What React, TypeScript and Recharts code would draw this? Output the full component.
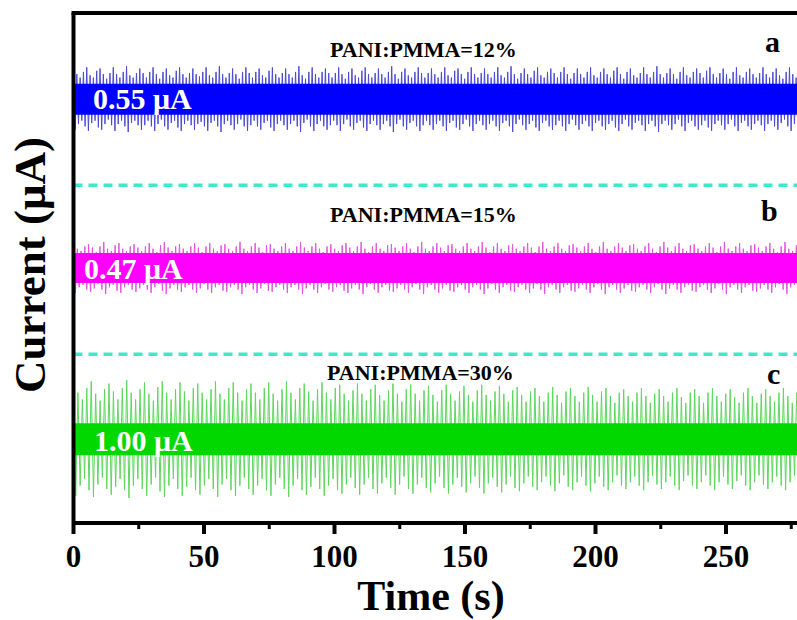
import { ComposedChart, Line, XAxis, YAxis, ReferenceLine } from 'recharts';

// axis ranges (time in s, stacked current in uA)
const xMax = 280;
const yMax = 4.5;
const timeTicks = [0, 25, 50, 75, 100, 125, 150, 175, 200, 225, 250, 275];

// offsets of the three stacked traces and the dashed separators
const centers = { a: 3.74, b: 2.25, c: 0.74 };
const separators = [2.98, 1.49];

// spike half-amplitudes, in 0.01 uA, one per cycle
const blueAmp = [
  27, 22, 19, 24, 28, 21, 19, 25, 27, 22, 18, 23, 28, 22, 19, 24, 29, 21, 19, 23,
  27, 23, 19, 24, 28, 22, 18, 24, 27, 21, 19, 25, 28, 22, 19, 23, 27, 22, 20, 24,
  28, 21, 19, 24, 29, 22, 19, 23, 27, 22, 18, 24, 28, 23, 19, 24, 27, 21, 19, 25,
  28, 22, 19, 23, 27, 22, 19, 24, 29, 21, 18, 24, 28, 22, 19, 24, 27, 23, 19, 23,
  28, 22, 18, 24, 27, 21, 19, 25, 28, 22, 19, 23, 27, 22, 19, 24, 29, 22, 18, 24,
  27, 21, 19, 24, 28, 23, 19, 23, 27, 22, 19, 24, 28, 21, 19, 25, 27, 22, 18, 24,
  28, 22, 19, 23, 27, 22, 19, 24, 28, 21, 19, 24, 29, 22, 18, 23, 27, 22, 19, 25,
  28, 21, 19, 24, 27, 23, 19, 24, 28, 22, 18, 23, 27, 22, 19, 24, 28, 21, 19, 24,
  27, 22, 19, 25, 28, 22, 18, 24, 27, 21, 19, 23, 28, 22, 19, 24, 29, 22, 19, 23,
  27, 22, 18, 24, 28, 21, 19, 24, 27, 23, 19, 25, 28, 22, 19, 23, 27, 22, 18, 24,
  28, 21, 19, 24, 27, 22, 19, 23, 28, 22, 19, 24, 27, 21, 18, 24, 28, 22, 19, 25, 27,
];
const magentaAmp = [
  22, 17, 15, 19, 21, 18, 14, 19, 23, 17, 15, 20, 22, 17, 15, 19, 21, 18, 15, 19,
  22, 17, 14, 20, 23, 18, 15, 19, 21, 17, 15, 19, 22, 18, 14, 19, 22, 17, 15, 20,
  21, 17, 15, 19, 23, 17, 15, 19, 22, 18, 14, 20, 21, 17, 15, 19, 22, 17, 15, 19,
  23, 18, 15, 19, 22, 17, 14, 19, 21, 17, 15, 20, 22, 18, 15, 19, 23, 17, 14, 19,
  22, 17, 15, 20, 21, 18, 15, 19, 22, 17, 14, 19, 23, 17, 15, 19, 22, 18, 15, 20,
  21, 17, 15, 19, 22, 17, 15, 19, 23, 18, 14, 19, 22, 17, 15, 20, 21, 17, 15, 19,
  22, 18, 14, 19, 23, 17, 15, 19, 22, 17, 15, 20, 21, 18, 15, 19, 22, 17, 14, 19,
  23, 17, 15, 19, 22, 18, 15, 20, 21, 17, 15, 19, 22, 17, 14, 19, 23, 18, 15, 19,
  22, 17, 15, 20, 21, 17, 15, 19, 22, 18, 14, 19, 23, 17, 15, 19, 22, 17, 15, 20,
  21, 18, 15, 19, 22, 17, 14, 19, 23, 17, 15, 20, 22, 18,
];
const greenAmp = [
  50, 41, 35, 45, 51, 40, 34, 44, 49, 42, 35, 45, 52, 41, 35, 44, 50, 40, 34, 46,
  51, 41, 35, 44, 50, 42, 34, 45, 49, 41, 35, 44, 51, 40, 35, 45, 50, 41, 34, 44,
  49, 41, 35, 45, 50, 40, 34, 44, 51, 41, 35, 45, 49, 42, 34, 44, 50, 41, 35, 45,
  48, 40, 34, 43, 49, 40, 34, 44, 48, 39, 34, 43, 49, 40, 33, 44, 48, 40, 34, 43,
  47, 39, 33, 43, 48, 40, 34, 42, 47, 39, 33, 43, 48, 39, 34, 42, 47, 40, 33, 43,
  46, 39, 33, 42, 45, 38, 33, 41, 46, 39, 32, 42, 45, 38, 33, 41, 46, 39, 33, 42,
  45, 38, 32, 41, 44, 38, 33, 41, 45, 38, 32, 40, 44, 38, 33, 41, 45, 37, 32, 41,
  44, 38, 32, 41, 45, 38, 33, 40, 44, 37, 32, 41, 45, 38, 32, 40, 44, 38, 33, 41,
  45, 38, 32, 41, 44,
];

// cycle length of each trace (s)
const blueDt = 1.27;
const magentaDt = 1.45;
const greenDt = 1.7;

const FONT = "'Liberation Serif', 'Times New Roman', serif";

const buildTrace = (amps: number[], dt: number, center: number) =>
  amps.flatMap((a, i) => [
    { t: i * dt, v: center + a / 100 },
    { t: i * dt + dt / 2, v: center - a / 100 },
  ]);

const buildBand = (center: number) => [
  { t: 0, v: center },
  { t: xMax, v: center },
];

const traceA = buildTrace(blueAmp, blueDt, centers.a);
const traceB = buildTrace(magentaAmp, magentaDt, centers.b);
const traceC = buildTrace(greenAmp, greenDt, centers.c);

const TimeTick = ({ x, y, payload }: any) => {
  const major = payload.value % 50 === 0;
  return (
    <g transform={`translate(${x},${y})`}>
      <line x1={0} x2={0} y1={0} y2={major ? 11 : 6} stroke="#000" strokeWidth={major ? 4 : 3} />
      {major && (
        <text y={44} textAnchor="middle" fontSize={31} fontWeight="bold" fontFamily={FONT} fill="#000">
          {payload.value}
        </text>
      )}
    </g>
  );
};

// text layer drawn above the plotted bands
const Annotations = () => (
  <svg
    width={797}
    height={620}
    style={{ position: 'absolute', left: 0, top: 0, zIndex: 5, pointerEvents: 'none' }}
  >
    <rect x={71.5} y={11} width={726} height={4} fill="#000" />
    <g fontFamily={FONT} fontWeight="bold">
      <text x={330} y={57} fontSize={22} fill="#000">PANI:PMMA=12%</text>
      <text x={330} y={222} fontSize={22} fill="#000">PANI:PMMA=15%</text>
      <text x={327} y={380} fontSize={22} fill="#000">PANI:PMMA=30%</text>
      <text x={765} y={52} fontSize={30} fill="#000">a</text>
      <text x={761} y={221} fontSize={30} fill="#000">b</text>
      <text x={767} y={384} fontSize={30} fill="#000">c</text>
      <text x={93} y={109} fontSize={30} fill="#fff">0.55 μA</text>
      <text x={84} y={279} fontSize={30} fill="#fff">0.47 μA</text>
      <text x={94} y={451} fontSize={30} fill="#fff">1.00 μA</text>
      <text x={431} y={610} fontSize={42} fill="#000" textAnchor="middle">Time (s)</text>
      <text transform="translate(45,265) rotate(-90)" fontSize={45} fill="#000" textAnchor="middle">
        Current (μA)
      </text>
    </g>
  </svg>
);

const App = () => {
  return (
    <div style={{ position: 'absolute', left: 0, top: 0, width: 797, height: 620, overflow: 'hidden', background: '#fff' }}>
      <ComposedChart width={815} height={620} margin={{ top: 13, right: 10.7, bottom: 0, left: 0 }}>
        <XAxis
          type="number"
          dataKey="t"
          domain={[0, xMax]}
          ticks={timeTicks}
          allowDataOverflow
          height={97}
          tickSize={0}
          tickMargin={0}
          tick={<TimeTick />}
          axisLine={{ stroke: '#000', strokeWidth: 4 }}
          interval={0}
        />
        <YAxis
          type="number"
          domain={[0, yMax]}
          allowDataOverflow
          width={73.5}
          tick={false}
          tickLine={false}
          axisLine={{ stroke: '#000', strokeWidth: 4 }}
        />
        {separators.map((s) => (
          <ReferenceLine key={s} y={s} stroke="#40e8c8" strokeWidth={3.5} strokeDasharray="9 6" />
        ))}
        <Line data={traceA} dataKey="v" stroke="#4b4bd2" strokeWidth={1} dot={false} isAnimationActive={false} />
        <Line data={traceB} dataKey="v" stroke="#e055e0" strokeWidth={1} dot={false} isAnimationActive={false} />
        <Line data={traceC} dataKey="v" stroke="#5fd65f" strokeWidth={1} dot={false} isAnimationActive={false} />
        <Line data={buildBand(centers.a)} dataKey="v" stroke="#0000ff" strokeWidth={31} dot={false} isAnimationActive={false} />
        <Line data={buildBand(centers.b)} dataKey="v" stroke="#ff00ff" strokeWidth={30} dot={false} isAnimationActive={false} />
        <Line data={buildBand(centers.c)} dataKey="v" stroke="#00d800" strokeWidth={32} dot={false} isAnimationActive={false} />
      </ComposedChart>
      <div
        style={{ position: 'absolute', left: 71.5, top: 11, width: 726, height: 0, borderTop: '4px solid #000', zIndex: 6 }}
      />
      <Annotations />
    </div>
  );
};

export default App;
